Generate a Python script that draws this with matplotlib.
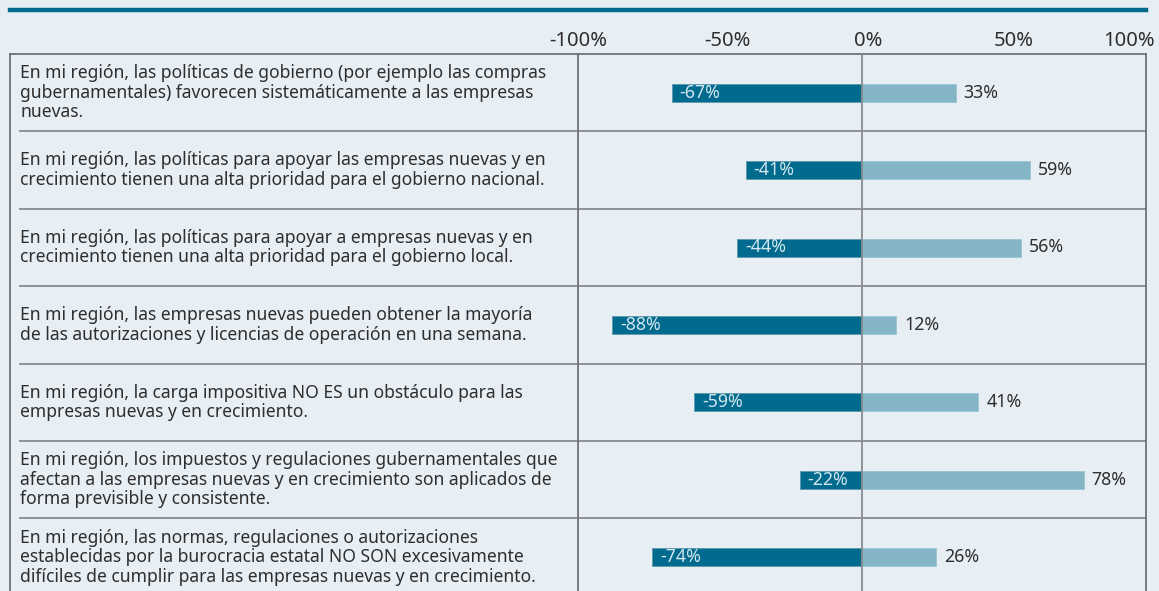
import matplotlib
matplotlib.use("Agg")
import matplotlib.pyplot as plt
from matplotlib import transforms as mtransforms

statements = [
    "En mi región, las políticas de gobierno (por ejemplo las compras\ngubernamentales) favorecen sistemáticamente a las empresas\nnuevas.",
    "En mi región, las políticas para apoyar las empresas nuevas y en\ncrecimiento tienen una alta prioridad para el gobierno nacional.",
    "En mi región, las políticas para apoyar a empresas nuevas y en\ncrecimiento tienen una alta prioridad para el gobierno local.",
    "En mi región, las empresas nuevas pueden obtener la mayoría\nde las autorizaciones y licencias de operación en una semana.",
    "En mi región, la carga impositiva NO ES un obstáculo para las\nempresas nuevas y en crecimiento.",
    "En mi región, los impuestos y regulaciones gubernamentales que\nafectan a las empresas nuevas y en crecimiento son aplicados de\nforma previsible y consistente.",
    "En mi región, las normas, regulaciones o autorizaciones\nestablecidas por la burocracia estatal NO SON excesivamente\ndifíciles de cumplir para las empresas nuevas y en crecimiento.",
]
disagree = [-67, -41, -44, -88, -59, -22, -74]
agree = [33, 59, 56, 12, 41, 78, 26]
tick_values = [-100, -50, 0, 50, 100]
tick_labels = ["-100%", "-50%", "0%", "50%", "100%"]

BG = "#e7eef4"
DARK = "#006b8e"
LIGHT = "#83b5c7"
TXT = "#2e2e2e"
FONT = ["Noto Sans", "DejaVu Sans"]
plt.rcParams["font.family"] = FONT

W, H = 1159, 591
fig = plt.figure(figsize=(W / 100, H / 100), dpi=100, facecolor=BG)

row_h = 77.4
top_px = 54
n = len(statements)
x0_px, x1_px = 578, 1146
ax_bottom_px = top_px + n * row_h
ax = fig.add_axes([x0_px / W, 1 - ax_bottom_px / H, (x1_px - x0_px) / W, (ax_bottom_px - top_px) / H])
ax.set_facecolor("none")
ax.set_xlim(-100, 100)
ax.set_ylim(n, 0)
for s in ax.spines.values():
    s.set_visible(False)

ypos = [i + 0.5 for i in range(n)]
bh = 18 / row_h
ax.barh(ypos, disagree, height=bh, color=DARK, edgecolor="#5f98ad", linewidth=0.6, zorder=3)
ax.barh(ypos, agree, height=bh, color=LIGHT, edgecolor="#9cc4d2", linewidth=0.6, zorder=3)

# value labels
for y, d, a in zip(ypos, disagree, agree):
    t1 = mtransforms.offset_copy(ax.transData, fig=fig, x=8, y=0, units="dots")
    ax.text(d, y, f"{d}%", transform=t1, ha="left", va="center", fontsize=12.8,
            color="#d3e6ee", zorder=4)
    ax.text(a, y, f"{a}%", transform=t1, ha="left", va="center", fontsize=12.8,
            color=TXT, zorder=4)

# ticks on top
ax.xaxis.tick_top()
ax.set_xticks(tick_values)
ax.set_xticklabels(tick_labels, fontsize=14.5, color=TXT)
ax.tick_params(axis="x", length=0, pad=2)
ax.set_yticks([])
offsets = [0, 7, 6, 10, -17]
for lab, off in zip(ax.get_xticklabels(), offsets):
    lab.set_transform(lab.get_transform() + mtransforms.ScaledTranslation(off / 100, 0, fig.dpi_scale_trans))

# structural lines
blend = mtransforms.blended_transform_factory(fig.transFigure, ax.transData)
GRID = "#8e9296"
BORDER = "#6f7377"
for i in range(1, n):
    ax.plot([20 / W, x1_px / W], [i, i], transform=blend, color=GRID, lw=1.4, clip_on=False, zorder=2)
ax.plot([10 / W, x1_px / W], [0, 0], transform=blend, color=BORDER, lw=1.3, clip_on=False, zorder=2)
for xp in [10, x0_px, x1_px]:
    ax.plot([xp / W, xp / W], [0, n], transform=blend, color=BORDER, lw=1.3, clip_on=False, zorder=2)
ax.axvline(0, color="#888c90", lw=1.3, zorder=5)

# top thick rule
fig.add_artist(plt.Line2D([10 / W, x1_px / W], [1 - 10 / H, 1 - 10 / H], color=DARK, lw=3.2))

# statement texts
for y, s in zip(ypos, statements):
    ax.text(20 / W, y, s, transform=blend, ha="left", va="center", fontsize=12.6,
            color=TXT, linespacing=1.1)

fig.savefig("out.png", dpi=100, facecolor=BG)
